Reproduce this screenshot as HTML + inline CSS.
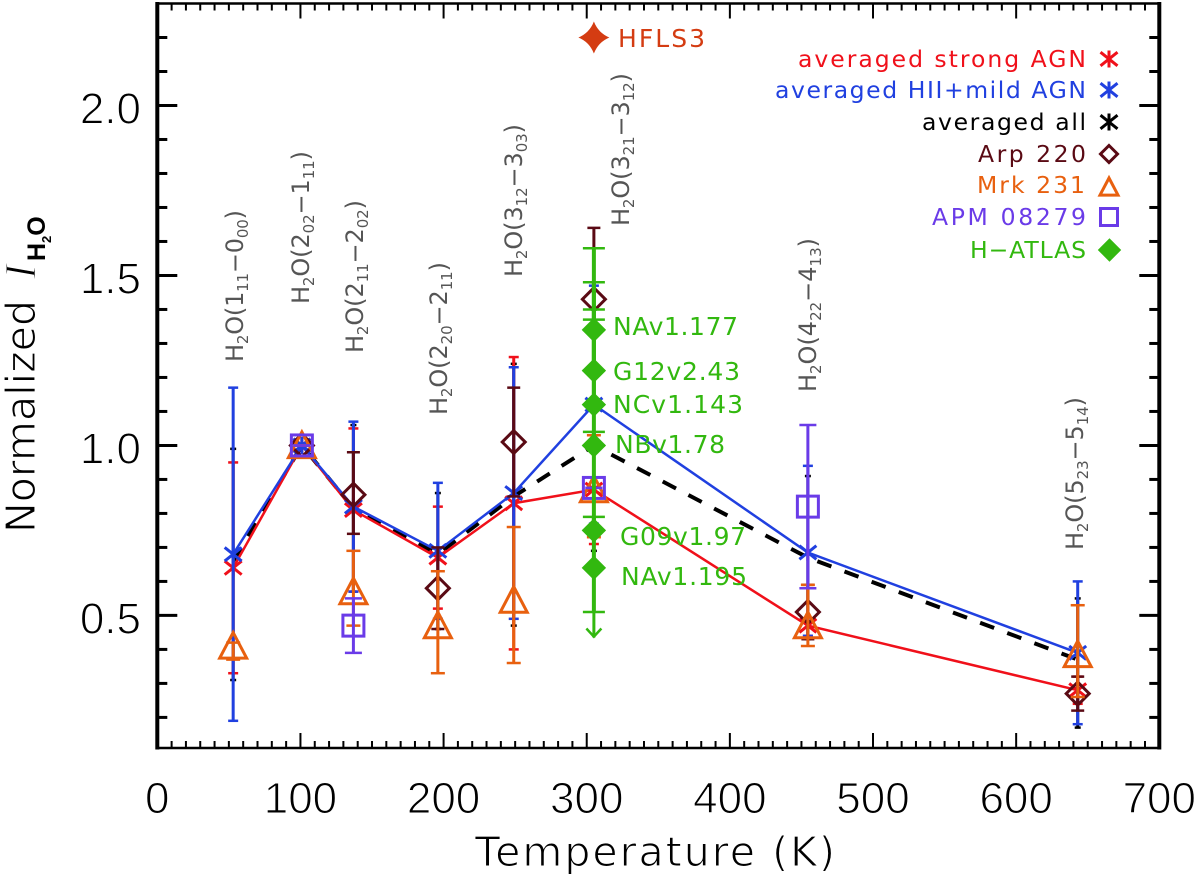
<!DOCTYPE html>
<html lang="en">
<head>
<meta charset="utf-8">
<title>Normalized H2O intensity vs temperature</title>
<style>
html,body{margin:0;padding:0;background:#fff;}
svg{display:block;font-family:"Liberation Sans",sans-serif;}
.thin{stroke:#fff;stroke-width:1.1px;}
.dj{font-family:"DejaVu Sans",sans-serif;}
.lbl{font-family:"DejaVu Sans",sans-serif;font-size:24px;fill:#555;}
.gal{font-family:"DejaVu Sans",sans-serif;font-size:25px;fill:#32b80f;}
.leg{font-family:"DejaVu Sans",sans-serif;font-size:23.5px;text-anchor:end;}
</style>
</head>
<body>
<svg id="chart" xmlns="http://www.w3.org/2000/svg" width="1200" height="880" viewBox="0 0 1200 880">
  <g id="marks"></g>
  <g id="axes"></g>

  <text class="thin dj" x="475" y="866" font-size="41" textLength="360" lengthAdjust="spacing">Temperature (K)</text>
  <g>
    <text class="thin dj" transform="translate(35,533) rotate(-90)" font-size="41" textLength="233" lengthAdjust="spacing">Normalized</text>
    <text class="thin" transform="translate(35,279) rotate(-90)" font-size="44" font-style="italic" style="font-family:'Liberation Serif',serif">I</text>
    <text transform="translate(45,261) rotate(-90)" font-size="25" font-weight="bold">H<tspan font-size="13" dy="6">2</tspan><tspan dy="-6">O</tspan></text>
  </g>

  <g>
    <text class="lbl" transform="translate(243,362) rotate(-90)" textLength="152" lengthAdjust="spacing">H<tspan font-size="15" dy="5">2</tspan><tspan dy="-5">O(1</tspan><tspan font-size="15" dy="5">11</tspan><tspan dy="-5">−0</tspan><tspan font-size="15" dy="5">00</tspan><tspan dy="-5">)</tspan></text>
    <text class="lbl" transform="translate(309,304) rotate(-90)" textLength="153" lengthAdjust="spacing">H<tspan font-size="15" dy="5">2</tspan><tspan dy="-5">O(2</tspan><tspan font-size="15" dy="5">02</tspan><tspan dy="-5">−1</tspan><tspan font-size="15" dy="5">11</tspan><tspan dy="-5">)</tspan></text>
    <text class="lbl" transform="translate(363,353) rotate(-90)" textLength="153" lengthAdjust="spacing">H<tspan font-size="15" dy="5">2</tspan><tspan dy="-5">O(2</tspan><tspan font-size="15" dy="5">11</tspan><tspan dy="-5">−2</tspan><tspan font-size="15" dy="5">02</tspan><tspan dy="-5">)</tspan></text>
    <text class="lbl" transform="translate(447,415) rotate(-90)" textLength="153" lengthAdjust="spacing">H<tspan font-size="15" dy="5">2</tspan><tspan dy="-5">O(2</tspan><tspan font-size="15" dy="5">20</tspan><tspan dy="-5">−2</tspan><tspan font-size="15" dy="5">11</tspan><tspan dy="-5">)</tspan></text>
    <text class="lbl" transform="translate(522,277) rotate(-90)" textLength="153" lengthAdjust="spacing">H<tspan font-size="15" dy="5">2</tspan><tspan dy="-5">O(3</tspan><tspan font-size="15" dy="5">12</tspan><tspan dy="-5">−3</tspan><tspan font-size="15" dy="5">03</tspan><tspan dy="-5">)</tspan></text>
    <text class="lbl" transform="translate(629,226) rotate(-90)" textLength="153" lengthAdjust="spacing">H<tspan font-size="15" dy="5">2</tspan><tspan dy="-5">O(3</tspan><tspan font-size="15" dy="5">21</tspan><tspan dy="-5">−3</tspan><tspan font-size="15" dy="5">12</tspan><tspan dy="-5">)</tspan></text>
    <text class="lbl" transform="translate(816,392) rotate(-90)" textLength="154" lengthAdjust="spacing">H<tspan font-size="15" dy="5">2</tspan><tspan dy="-5">O(4</tspan><tspan font-size="15" dy="5">22</tspan><tspan dy="-5">−4</tspan><tspan font-size="15" dy="5">13</tspan><tspan dy="-5">)</tspan></text>
    <text class="lbl" transform="translate(1083,550) rotate(-90)" textLength="153" lengthAdjust="spacing">H<tspan font-size="15" dy="5">2</tspan><tspan dy="-5">O(5</tspan><tspan font-size="15" dy="5">23</tspan><tspan dy="-5">−5</tspan><tspan font-size="15" dy="5">14</tspan><tspan dy="-5">)</tspan></text>
  </g>

  <g>
    <text class="gal" x="613" y="335" textLength="125" lengthAdjust="spacing">NAv1.177</text>
    <text class="gal" x="613" y="380" textLength="127" lengthAdjust="spacing">G12v2.43</text>
    <text class="gal" x="613" y="413" textLength="130" lengthAdjust="spacing">NCv1.143</text>
    <text class="gal" x="615" y="453" textLength="110" lengthAdjust="spacing">NBv1.78</text>
    <text class="gal" x="620" y="545" textLength="126" lengthAdjust="spacing">G09v1.97</text>
    <text class="gal" x="621" y="585" textLength="126" lengthAdjust="spacing">NAv1.195</text>
    <text class="dj" x="618" y="47" font-size="25" fill="#d43c12" textLength="87" lengthAdjust="spacing">HFLS3</text>
  </g>

  <g id="legend">
    <text class="leg" x="1086" y="67" fill="#f0101a" textLength="288" lengthAdjust="spacing">averaged strong AGN</text>
    <text class="leg" x="1086" y="98" fill="#2040e0" textLength="311" lengthAdjust="spacing">averaged HII+mild AGN</text>
    <text class="leg" x="1086" y="130" fill="#000" textLength="164" lengthAdjust="spacing">averaged all</text>
    <text class="leg" x="1086" y="162" fill="#5a0a14" textLength="108" lengthAdjust="spacing">Arp 220</text>
    <text class="leg" x="1085" y="193" fill="#e8600f" textLength="108" lengthAdjust="spacing">Mrk 231</text>
    <text class="leg" x="1086" y="225" fill="#6a3be8" textLength="154" lengthAdjust="spacing">APM 08279</text>
    <text class="leg" x="1086" y="258" fill="#32b80f" textLength="116" lengthAdjust="spacing">H−ATLAS</text>
  </g>
</svg>

<script>
// ---- data ----
const temps = [53, 101, 137, 196, 249, 305, 454.5, 643];

const strongVals = [0.64, 1.00, 0.81, 0.67, 0.83, 0.87, 0.47, 0.28];
const strongTop  = [0.95, 1.00, 1.05, 0.82, 1.26, 1.03, 0.59, 0.32];
const strongBot  = [0.33, 1.00, 0.57, 0.52, 0.40, 0.71, 0.44, 0.24];

const hiiVals = [0.68, 1.00, 0.82, 0.69, 0.86, 1.12, 0.685, 0.39];
const hiiTop  = [1.17, 1.00, 1.07, 0.89, 1.23, 1.47, 0.94, 0.60];
const hiiBot  = [0.19, 1.00, 0.57, 0.49, 0.49, 0.77, 0.44, 0.18];

const allVals = [0.66, 1.00, 0.815, 0.68, 0.85, 1.00, 0.67, 0.37];
const allTop  = [0.99, 1.00, 1.06, 0.86, 1.24, 1.40, 0.91, 0.55];
const allBot  = [0.31, 1.00, 0.57, 0.46, 0.47, 0.69, 0.43, 0.17];

const arpTemps = [101, 137, 196, 249, 305, 454.5, 643];
const arpVals  = [1.00, 0.855, 0.58, 1.01, 1.43, 0.51, 0.27];
const arpTop   = [1.00, 0.98, 0.70, 1.17, 1.64, 0.59, 0.32];
const arpBot   = [1.00, 0.74, 0.46, 0.85, 1.22, 0.43, 0.22];

const mrkTemps = [53, 101, 137, 196, 249, 305, 454.5, 643];
const mrkVals  = [0.41, 1.00, 0.57, 0.47, 0.545, 0.87, 0.47, 0.385];
const mrkTop   = [0.42, 1.00, 0.69, 0.63, 0.76, 1.03, 0.59, 0.53];
const mrkBot   = [0.37, 1.00, 0.47, 0.33, 0.36, 0.73, 0.41, 0.26];

const apmTemps = [101, 137, 305, 454.5];
const apmVals  = [1.00, 0.47, 0.875, 0.82];
const apmTop   = [1.00, 0.55, 0.875, 1.06];
const apmBot   = [1.00, 0.39, 0.875, 0.58];

const atlasTemp = 305;
const atlasVals = [1.34, 1.22, 1.12, 1.00, 0.75, 0.64];
const atlasTop  = [1.58, 1.48, 1.40, 1.37, 1.04, 0.79];
const atlasBot  = [1.34, 1.22, 1.12, 1.00, 0.75, 0.51];
const atlasArrowTip = 0.435;

const hflsTemp = 305;
const hflsVal = 2.20;

const xMajorTicks = [0, 100, 200, 300, 400, 500, 600, 700];
const xTickLabels = ["0", "100", "200", "300", "400", "500", "600", "700"];
const yMajorTicks = [0.5, 1.0, 1.5, 2.0];
const yTickLabels = ["0.5", "1.0", "1.5", "2.0"];

// ---- axis functions ----
const xMin = 0, xMax = 700, yMin = 0.11, yMax = 2.30;
const plotL = 157.3, plotR = 1159.3, plotT = 3.5, plotB = 748;
function xS(t) { return plotL + (t - xMin) / (xMax - xMin) * (plotR - plotL); }
function yS(v) { return plotB - (v - yMin) / (yMax - yMin) * (plotB - plotT); }

const NS = "http://www.w3.org/2000/svg";
const marks = document.getElementById("marks");
const axes = document.getElementById("axes");
const legend = document.getElementById("legend");

function add(parent, tag, props) {
  const el = document.createElementNS(NS, tag);
  for (const k in props) el.setAttribute(k, props[k]);
  parent.appendChild(el);
  return el;
}
function seg(parent, x1, y1, x2, y2, color, w) {
  return add(parent, "line", {x1: x1, y1: y1, x2: x2, y2: y2, stroke: color, "stroke-width": w});
}

function asterisk(parent, cx, cy, r, color, w) {
  const g = add(parent, "g", {});
  seg(g, cx, cy - r, cx, cy + r, color, w);
  seg(g, cx - r, cy - r * 0.8, cx + r, cy + r * 0.8, color, w);
  seg(g, cx - r, cy + r * 0.8, cx + r, cy - r * 0.8, color, w);
  return g;
}
function diamond(parent, cx, cy, r, color, w, filled) {
  const pts = [[cx, cy - r], [cx + r, cy], [cx, cy + r], [cx - r, cy]].join(" ");
  return add(parent, "polygon", {points: pts, fill: filled ? color : "none", stroke: color, "stroke-width": w});
}
function triangle(parent, cx, cy, r, color, w) {
  const pts = [[cx, cy - r], [cx + r, cy + r * 0.9], [cx - r, cy + r * 0.9]].join(" ");
  return add(parent, "polygon", {points: pts, fill: "none", stroke: color, "stroke-width": w, "stroke-linejoin": "miter"});
}
function square(parent, cx, cy, r, color, w) {
  return add(parent, "rect", {x: cx - r, y: cy - r, width: 2 * r, height: 2 * r, fill: "none", stroke: color, "stroke-width": w});
}

function errorBars(parent, tArr, top, bot, color, cap, w) {
  tArr.forEach(function (t, i) {
    const x = xS(t), y1 = yS(top[i]), y2 = yS(bot[i]);
    seg(parent, x, y1, x, y2, color, w);
    seg(parent, x - cap, y1, x + cap, y1, color, 2.5);
    seg(parent, x - cap, y2, x + cap, y2, color, 2.5);
  });
}
function polyline(parent, tArr, vals, color, w, dash) {
  const pts = tArr.map(function (t, i) { return xS(t) + "," + yS(vals[i]); }).join(" ");
  const p = add(parent, "polyline", {points: pts, fill: "none", stroke: color, "stroke-width": w});
  if (dash) p.setAttribute("stroke-dasharray", dash);
  return p;
}

const cBlack = "#000", cRed = "#f0101a", cBlue = "#2040e0", cArp = "#5a0a14",
      cMrk = "#e8600f", cApm = "#6a3be8", cGreen = "#32b80f", cStar = "#d43c12";

// averaged all
const gAll = add(marks, "g", {});


errorBars(gAll, temps, allTop, allBot, cBlack, 3, 3);
polyline(gAll, temps, allVals, cBlack, 4, "15 14");

// strong AGN
const gStrong = add(marks, "g", {});


errorBars(gStrong, temps, strongTop, strongBot, cRed, 5, 3);
polyline(gStrong, temps, strongVals, cRed, 2.5);
temps.forEach(function (t, i) { asterisk(gStrong, xS(t), yS(strongVals[i]), 8.5, cRed, 3); });

// HII + mild AGN
const gHii = add(marks, "g", {});


errorBars(gHii, temps, hiiTop, hiiBot, cBlue, 5, 3);
polyline(gHii, temps, hiiVals, cBlue, 2.5);
temps.forEach(function (t, i) { asterisk(gHii, xS(t), yS(hiiVals[i]), 8.5, cBlue, 3); });

// Arp 220
const gArp = add(marks, "g", {});


errorBars(gArp, arpTemps, arpTop, arpBot, cArp, 6.5, 3);
arpTemps.forEach(function (t, i) { diamond(gArp, xS(t), yS(arpVals[i]), 11.5, cArp, 3, false); });

// Mrk 231
const gMrk = add(marks, "g", {});


errorBars(gMrk, mrkTemps, mrkTop, mrkBot, cMrk, 7, 3);
mrkTemps.forEach(function (t, i) { triangle(gMrk, xS(t), yS(mrkVals[i]), 13.5, cMrk, 3); });

// APM 08279
const gApm = add(marks, "g", {});


errorBars(gApm, apmTemps, apmTop, apmBot, cApm, 8.5, 3);
apmTemps.forEach(function (t, i) { square(gApm, xS(t), yS(apmVals[i]), 10.5, cApm, 3); });

// H-ATLAS
const gAtlas = add(marks, "g", {});


atlasVals.forEach(function (v, i) {
  const x = xS(atlasTemp), y1 = yS(atlasTop[i]), y2 = yS(atlasBot[i]);
  seg(gAtlas, x, y1, x, y2, cGreen, 4);
  seg(gAtlas, x - 11, y1, x + 11, y1, cGreen, 2.5);
  seg(gAtlas, x - 11, y2, x + 11, y2, cGreen, 2.5);
});
const arrowX = xS(atlasTemp), arrowTip = yS(atlasArrowTip);
seg(gAtlas, arrowX, yS(atlasBot[5]), arrowX, arrowTip, cGreen, 3);
seg(gAtlas, arrowX - 7.5, arrowTip - 9, arrowX + 0.8, arrowTip, cGreen, 2.5);
seg(gAtlas, arrowX + 7.5, arrowTip - 9, arrowX - 0.8, arrowTip, cGreen, 2.5);
atlasVals.forEach(function (v) { diamond(gAtlas, xS(atlasTemp), yS(v), 11.5, cGreen, 1, true); });

// HFLS3 star
const hx = xS(hflsTemp), hy = yS(hflsVal);
const star = add(marks, "path", {
  d: "M" + hx + " " + (hy - 16) + "Q" + (hx + 4.5) + " " + (hy - 4.5) + " " + (hx + 15.5) + " " + hy +
     "Q" + (hx + 4.5) + " " + (hy + 4.5) + " " + hx + " " + (hy + 16) +
     "Q" + (hx - 4.5) + " " + (hy + 4.5) + " " + (hx - 15.5) + " " + hy +
     "Q" + (hx - 4.5) + " " + (hy - 4.5) + " " + hx + " " + (hy - 16) + "Z",
  fill: cStar
});



// ---- axes ----
const frame = add(axes, "g", {});


seg(frame, plotL, plotT - 1.5, plotL, plotB + 1.5, "#000", 4);
seg(frame, plotR, plotT - 1.5, plotR, plotB + 1.5, "#000", 4);
seg(frame, plotL, plotB, plotR, plotB, "#000", 2.5);
seg(frame, plotL, plotT, plotR, plotT, "#000", 2.5);

for (let k = 1; k < 70; k++) {
  const t = k * 10, x = xS(t), major = (k % 10 === 0), len = major ? 15 : 7;
  seg(axes, x, plotB, x, plotB - len, "#000", 2);
  seg(axes, x, plotT, x, plotT + len, "#000", 2);
}
for (let k = 2; k <= 22; k++) {
  const v = k / 10, y = yS(v), major = (k % 5 === 0), len = major ? 20 : 10;
  seg(axes, plotL, y, plotL + len, y, "#000", 3);
  seg(axes, plotR, y, plotR - len, y, "#000", 3);
}
xMajorTicks.forEach(function (t, i) {
  const el = add(axes, "text", {x: xS(t), y: 813, "text-anchor": "middle", "font-size": 44, "class": "thin"});
  el.textContent = xTickLabels[i];
  
  
});
yMajorTicks.forEach(function (v, i) {
  const el = add(axes, "text", {x: 141, y: yS(v) + 18, "text-anchor": "end", "font-size": 44, "class": "thin"});
  el.textContent = yTickLabels[i];
  
  
});

// ---- legend markers ----
const lx = 1109;
asterisk(legend, lx, 59, 8.5, cRed, 3);
asterisk(legend, lx, 90, 8.5, cBlue, 3);
asterisk(legend, lx, 122, 8.5, cBlack, 3);
diamond(legend, lx, 154, 8.5, cArp, 3, false);
triangle(legend, lx, 187, 9, cMrk, 3);
square(legend, lx, 217, 8.5, cApm, 3);
diamond(legend, lx + 0.5, 250, 11, cGreen, 1, true);
</script>
</body>
</html>
